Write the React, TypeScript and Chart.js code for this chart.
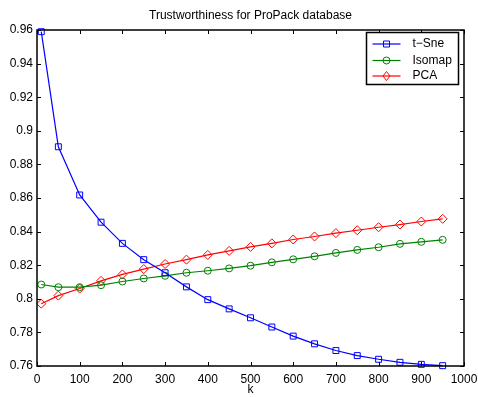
import React, { useEffect, useRef } from "react";
import { Chart, registerables } from "chart.js";

Chart.register(...registerables);

const kValues = [10, 50, 100, 150, 200, 250, 300, 350, 400, 450, 500, 550, 600, 650, 700, 750, 800, 850, 900, 950];
const tsne = [0.959, 0.8905, 0.8618, 0.8456, 0.833, 0.8233, 0.8155, 0.8071, 0.7995, 0.794, 0.7887, 0.7832, 0.7778, 0.7732, 0.7692, 0.7662, 0.764, 0.7622, 0.761, 0.7602];
const isomap = [0.8085, 0.8069, 0.8069, 0.8081, 0.8103, 0.8121, 0.8137, 0.8155, 0.8167, 0.8181, 0.8197, 0.8217, 0.8235, 0.8253, 0.8273, 0.8291, 0.8307, 0.8327, 0.8339, 0.8351];
const pca = [0.7971, 0.8019, 0.8061, 0.8107, 0.8145, 0.8177, 0.8207, 0.8233, 0.8261, 0.8285, 0.8309, 0.833, 0.8353, 0.8371, 0.8391, 0.8408, 0.8426, 0.8442, 0.846, 0.8476];
const seriesNames = ["t\u2212Sne", "Isomap", "PCA"];
const titleText = "Trustworthiness for ProPack database";
const xLabel = "k";

const FONT = '"Liberation Sans", Arial, Helvetica, sans-serif';
const colors = ["#0000ff", "#008000", "#ff0000"];
const markers = ["square", "circle", "diamond"];

function drawMarker(ctx: CanvasRenderingContext2D, kind: string, x: number, y: number, color: string) {
  ctx.save();
  ctx.strokeStyle = color;
  ctx.lineWidth = 1;
  ctx.beginPath();
  if (kind === "square") {
    ctx.rect(x - 3, y - 3, 6, 6);
  } else if (kind === "circle") {
    ctx.arc(x, y, 3.5, 0, Math.PI * 2);
  } else {
    ctx.moveTo(x, y - 4.5);
    ctx.lineTo(x + 3.5, y);
    ctx.lineTo(x, y + 4.5);
    ctx.lineTo(x - 3.5, y);
    ctx.closePath();
  }
  ctx.stroke();
  ctx.restore();
}

const framePlugin = {
  id: "matlabFrame",
  afterDatasetsDraw(chart: any) {
    const ctx: CanvasRenderingContext2D = chart.ctx;
    const { left, right, top, bottom } = chart.chartArea;
    const xs = chart.scales.x;
    const ys = chart.scales.y;
    ctx.save();
    ctx.strokeStyle = "#000";
    ctx.lineWidth = 1;
    const tl = 4;
    xs.ticks.forEach((t: any) => {
      const px = Math.round(xs.getPixelForValue(t.value)) + 0.5;
      ctx.beginPath();
      ctx.moveTo(px, bottom);
      ctx.lineTo(px, bottom - tl);
      ctx.moveTo(px, top);
      ctx.lineTo(px, top + tl);
      ctx.stroke();
    });
    ys.ticks.forEach((t: any) => {
      const py = Math.round(ys.getPixelForValue(t.value)) + 0.5;
      ctx.beginPath();
      ctx.moveTo(left, py);
      ctx.lineTo(left + tl, py);
      ctx.moveTo(right, py);
      ctx.lineTo(right - tl, py);
      ctx.stroke();
    });
    ctx.lineWidth = 1.5;
    ctx.strokeRect(left, top, right - left, bottom - top);

    // title
    ctx.fillStyle = "#000";
    ctx.font = `12px ${FONT}`;
    ctx.textAlign = "center";
    ctx.textBaseline = "middle";
    ctx.fillText(titleText, (left + right) / 2, 16);
    ctx.fillText(xLabel, (left + right) / 2, 390);

    // legend
    const bx = right - 97.5;
    const by = top + 2.5;
    const bw = 92;
    const bh = 52;
    ctx.fillStyle = "#fff";
    ctx.fillRect(bx, by, bw, bh);
    ctx.strokeStyle = "#000";
    ctx.lineWidth = 1.5;
    ctx.strokeRect(bx, by, bw, bh);
    const rows = [by + 11.5, by + 28, by + 43.5];
    seriesNames.forEach((name, i) => {
      const y = rows[i];
      ctx.strokeStyle = colors[i];
      ctx.lineWidth = 1.2;
      ctx.beginPath();
      ctx.moveTo(bx + 6, y);
      ctx.lineTo(bx + 34, y);
      ctx.stroke();
      drawMarker(ctx, markers[i], bx + 20, y, colors[i]);
      ctx.fillStyle = "#000";
      ctx.textAlign = "left";
      ctx.textBaseline = "middle";
      ctx.font = `12px ${FONT}`;
      ctx.fillText(name, bx + 46, y);
    });
    ctx.restore();
  },
};

function makeData(vals: number[]) {
  return kValues.map((k, i) => ({ x: k, y: vals[i] }));
}

export default function App() {
  const ref = useRef<HTMLCanvasElement | null>(null);
  useEffect(() => {
    if (!ref.current) return;
    const common = {
      borderWidth: 1.2,
      pointBackgroundColor: "rgba(0,0,0,0)",
      pointBorderWidth: 1,
      pointHoverRadius: 4,
      tension: 0,
      clip: false as any,
    };
    const chart = new Chart(ref.current, {
      type: "line",
      data: {
        datasets: [
          { ...common, label: seriesNames[0], data: makeData(tsne), borderColor: colors[0], pointBorderColor: colors[0], pointStyle: "rect", pointRadius: 4.2 },
          { ...common, label: seriesNames[1], data: makeData(isomap), borderColor: colors[1], pointBorderColor: colors[1], pointStyle: "circle", pointRadius: 3.5 },
          { ...common, label: seriesNames[2], data: makeData(pca), borderColor: colors[2], pointBorderColor: colors[2], pointStyle: "rectRot", pointRadius: 4.5 },
        ],
      },
      options: {
        responsive: false,
        animation: false,
        events: [],
        layout: { padding: { top: 30, right: 14, left: 0, bottom: 0 } },
        plugins: { legend: { display: false }, tooltip: { enabled: false }, title: { display: false } },
        scales: {
          x: {
            type: "linear",
            min: 0,
            max: 1000,
            grid: { display: false, drawTicks: false },
            border: { display: false },
            ticks: {
              stepSize: 100,
              color: "#000",
              font: { family: FONT, size: 12 },
              padding: 6,
              maxRotation: 0,
              autoSkip: false,
              callback: (v: any) => String(Math.round(Number(v))),
            },
            afterFit: (s: any) => { s.height = 31; s.paddingRight = 0; s.paddingLeft = 0; },
          },
          y: {
            type: "linear",
            min: 0.76,
            max: 0.96,
            grid: { display: false, drawTicks: false },
            border: { display: false },
            ticks: {
              stepSize: 0.02,
              color: "#000",
              font: { family: FONT, size: 12 },
              padding: 4,
              autoSkip: false,
              callback: (v: any) => String(Number(Number(v).toFixed(2))),
            },
            afterFit: (s: any) => { s.width = 37; s.paddingTop = 0; s.paddingBottom = 0; },
          },
        },
      },
      plugins: [framePlugin],
    });
    return () => chart.destroy();
  }, []);
  return (
    <div style={{ position: "fixed", left: 0, top: 0, width: 478, height: 397, background: "#fff" }}>
      <canvas ref={ref} width={478} height={397} style={{ width: 478, height: 397, display: "block" }} />
    </div>
  );
}
